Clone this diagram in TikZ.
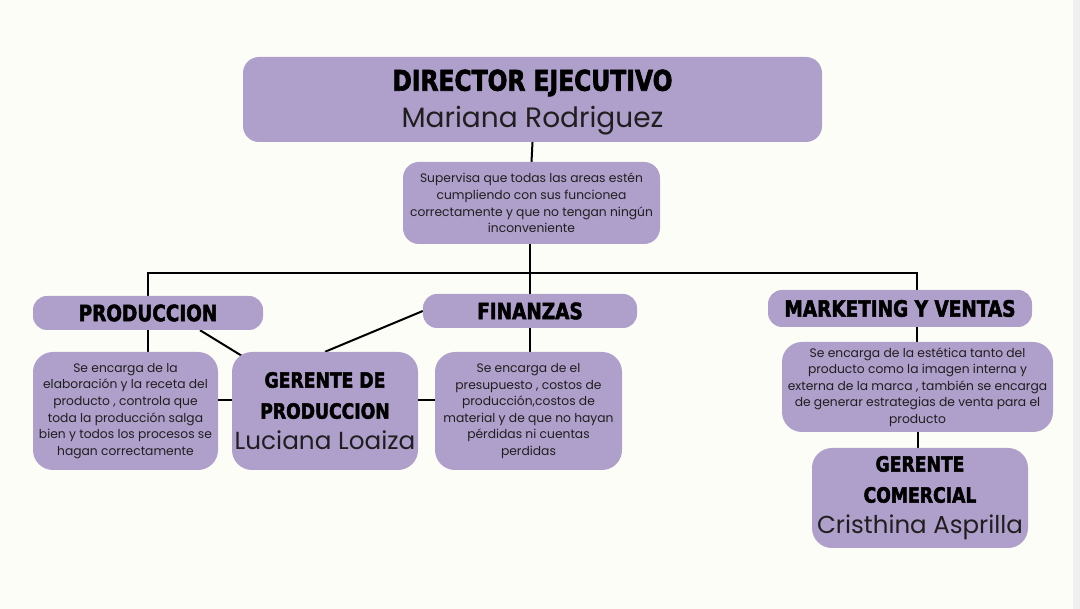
\documentclass[tikz,border=0pt]{standalone}
\usepackage{fontspec}
\setmainfont{Poppins}
\newfontfamily\heavy{DejaVu Sans}[FakeStretch=0.82, BoldFeatures={FakeBold=2.2}]
\usetikzlibrary{backgrounds,calc}
\definecolor{bgc}{HTML}{FDFDF8}
\definecolor{boxc}{HTML}{AF9FCB}
\definecolor{edgec}{HTML}{EFEFEF}
\newcommand{\hd}[1]{{\heavy\bfseries\color{black}#1}}
\tikzset{
  box/.style={fill=boxc, draw=none, rounded corners=16pt, inner sep=0pt, align=center, text=black!88},
  conn/.style={line width=2pt, black},
  small/.style={font=\fontsize{12.3}{16.6}\selectfont},
  head/.style={font=\fontsize{22.5}{26}\selectfont},
}
\begin{document}
\begin{tikzpicture}[x=1pt,y=-1pt]
\begin{scope}[on background layer]
\fill[bgc] (0,0) rectangle (1080,609);
\fill[edgec] (1073,0) rectangle (1080,609);
\end{scope}
\useasboundingbox (0,0) rectangle (1080,609);

\node[box, minimum width=579pt, minimum height=85pt, font=\fontsize{28}{37}\selectfont] (top) at (532.5,99.5)
  {\rule{0pt}{27pt}\hd{\fontsize{28.5}{37}\selectfont DIRECTOR EJECUTIVO}\\Mariana Rodriguez};
\node[box, small, minimum width=257pt, minimum height=82pt] (sup) at (531.5,203)
  {Supervisa que todas las areas estén\\cumpliendo con sus funcionea\\correctamente y que no tengan ningún\\inconveniente};

\node[box, rounded corners=14pt, minimum width=230pt, minimum height=34pt, head] (prod) at (148,313) {\hd{PRODUCCION}};
\node[box, rounded corners=14pt, minimum width=214pt, minimum height=34pt, head] (fin) at (530,311) {\hd{FINANZAS}};
\node[box, rounded corners=14pt, minimum width=264pt, minimum height=37pt, head] (mkt) at (900,308.5) {\hd{MARKETING Y VENTAS}};

\node[box, rounded corners=20pt, small, minimum width=185pt, minimum height=118pt] (pdesc) at (125.5,411)
  {Se encarga de la\\elaboración y la receta del\\producto , controla que\\toda la producción salga\\bien y todos los procesos se\\hagan correctamente};
\node[box, rounded corners=20pt, minimum width=186pt, minimum height=118pt, font=\fontsize{24.7}{31}\selectfont] (gprod) at (325,411)
  {\hd{\fontsize{21}{31}\selectfont GERENTE DE}\\\hd{\fontsize{21}{31}\selectfont PRODUCCION}\\Luciana Loaiza};
\node[box, rounded corners=20pt, small, minimum width=187pt, minimum height=118pt] (fdesc) at (528.5,411)
  {Se encarga de el\\presupuesto , costos de\\producción,costos de\\material y de que no hayan\\pérdidas ni cuentas\\perdidas};
\node[box, rounded corners=20pt, small, minimum width=271pt, minimum height=90pt] (mdesc) at (917.5,387)
  {Se encarga de la estética tanto del\\producto como la imagen interna y\\externa de la marca , también se encarga\\de generar estrategias de venta para el\\producto};
\node[box, rounded corners=20pt, minimum width=216pt, minimum height=100pt, font=\fontsize{24.5}{31}\selectfont] (gcom) at (920,498)
  {\hd{\fontsize{21}{30}\selectfont GERENTE}\\\hd{\fontsize{21}{30}\selectfont COMERCIAL}\\Cristhina Asprilla};

\coordinate (b1) at (148,273);
\coordinate (bm) at (530,273);
\coordinate (b2) at (917,273);

\begin{scope}[on background layer]
\draw[conn] (top.south) -- (sup.north);
\draw[conn] (bm |- sup.south) -- (bm |- fin.north);
\draw[conn] (prod.north) -- (b1) -- (b2) -- (b2 |- mkt.north);
\draw[conn] (prod.south) -- (prod.south |- pdesc.north);
\draw[conn] ([xshift=52pt]prod.south) -- ([xshift=-80pt,yshift=-6pt]gprod.north);
\draw[conn] (fin.west) -- (gprod.north);
\draw[conn] ([yshift=11pt]pdesc.east) -- ([yshift=11pt]gprod.west);
\draw[conn] ([yshift=11pt]gprod.east) -- ([yshift=11pt]fdesc.west);
\draw[conn] (bm |- fin.south) -- (bm |- fdesc.north);
\draw[conn] (b2 |- mkt.south) -- (b2 |- mdesc.north);
\draw[conn] (mdesc.south) -- (mdesc.south |- gcom.north);
\end{scope}
\end{tikzpicture}
\end{document}
